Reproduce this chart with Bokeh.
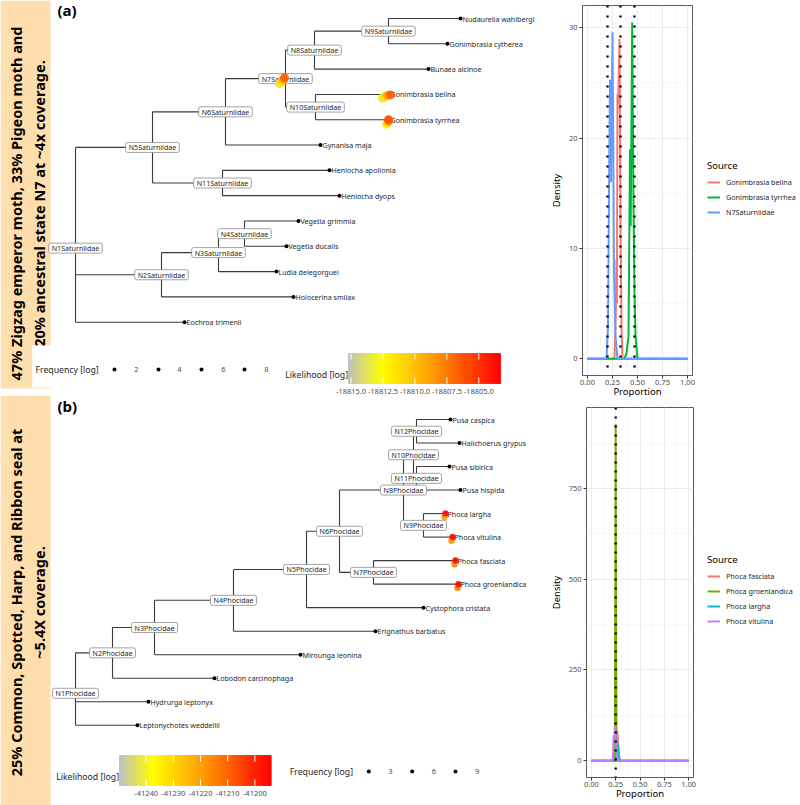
import numpy as np
from bokeh.plotting import figure
from bokeh.layouts import row, column
from bokeh.models import (Range1d, ColumnDataSource, LinearColorMapper, FixedTicker,
                          NumeralTickFormatter, Legend, LegendItem, Span)
from bokeh.transform import transform
from bokeh.core.properties import value
from bokeh.embed import file_html
from bokeh.resources import INLINE

FONT = "Noto Sans"

# ======================= DATA =======================
# ---- (a) Saturniidae tree: edges parent -> child with branch length
sat_parent = ["N1Saturniidae", "N1Saturniidae", "N1Saturniidae",
              "N5Saturniidae", "N5Saturniidae",
              "N6Saturniidae", "N6Saturniidae",
              "N7Saturniidae", "N7Saturniidae",
              "N8Saturniidae", "N8Saturniidae",
              "N9Saturniidae", "N9Saturniidae",
              "N10Saturniidae", "N10Saturniidae",
              "N11Saturniidae", "N11Saturniidae",
              "N2Saturniidae", "N2Saturniidae",
              "N3Saturniidae", "N3Saturniidae",
              "N4Saturniidae", "N4Saturniidae"]
sat_child = ["N5Saturniidae", "N2Saturniidae", "Eochroa trimenii",
             "N6Saturniidae", "N11Saturniidae",
             "N7Saturniidae", "Gynanisa maja",
             "N8Saturniidae", "N10Saturniidae",
             "N9Saturniidae", "Bunaea alcinoe",
             "Nudaurelia wahlbergi", "Gonimbrasia cytherea",
             "Gonimbrasia belina", "Gonimbrasia tyrrhea",
             "Heniocha apollonia", "Heniocha dyops",
             "N3Saturniidae", "Holocerina smilax",
             "N4Saturniidae", "Ludia delegorguei",
             "Vegetia grimmia", "Vegetia ducalis"]
sat_length = [0.077, 0.086, 0.109,
              0.073, 0.070,
              0.060, 0.095,
              0.029, 0.030,
              0.074, 0.114,
              0.072, 0.059,
              0.073, 0.073,
              0.107, 0.117,
              0.057, 0.132,
              0.026, 0.058,
              0.054, 0.042]

sat_anc_at = ["N7Saturniidae"] * 4 + ["Gonimbrasia belina"] * 4 + ["Gonimbrasia tyrrhea"] * 4
sat_anc_loglik = [-18813.5, -18811.5, -18809.0, -18806.5,
                  -18813.5, -18811.5, -18809.0, -18806.5,
                  -18813.0, -18811.0, -18808.5, -18806.0]
sat_anc_jitter_x = [-0.006, -0.004, -0.002, -0.001,
                    -0.006, -0.004, -0.001, 0.002,
                    -0.002, -0.001, 0.000, 0.000]
sat_anc_jitter_y = [0.20, 0.14, 0.05, -0.03,
                    0.14, 0.10, 0.04, 0.02,
                    0.18, 0.12, 0.05, 0.00]
sat_lik_range = [-18815.2, -18803.3]
sat_lik_ticks = [-18815.0, -18812.5, -18810.0, -18807.5, -18805.0]
sat_freq_breaks = [2, 4, 6, 8]
sat_title = ["47% Zigzag emperor moth, 33% Pigeon moth and",
             "20% ancestral state N7 at ~4x coverage."]

# ---- (b) Phocidae tree
pho_parent = ["N1Phocidae", "N1Phocidae", "N1Phocidae",
              "N2Phocidae", "N2Phocidae",
              "N3Phocidae", "N3Phocidae",
              "N4Phocidae", "N4Phocidae",
              "N5Phocidae", "N5Phocidae",
              "N6Phocidae", "N6Phocidae",
              "N8Phocidae", "N8Phocidae",
              "N10Phocidae", "N10Phocidae",
              "N12Phocidae", "N12Phocidae",
              "N11Phocidae", "N11Phocidae",
              "N9Phocidae", "N9Phocidae",
              "N7Phocidae", "N7Phocidae"]
pho_child = ["N2Phocidae", "Hydrurga leptonyx", "Leptonychotes weddellii",
             "N3Phocidae", "Lobodon carcinophaga",
             "N4Phocidae", "Mirounga leonina",
             "N5Phocidae", "Erignathus barbatus",
             "N6Phocidae", "Cystophora cristata",
             "N8Phocidae", "N7Phocidae",
             "N10Phocidae", "N9Phocidae",
             "N12Phocidae", "N11Phocidae",
             "Pusa caspica", "Halichoerus grypus",
             "Pusa sibirica", "Pusa hispida",
             "Phoca largha", "Phoca vitulina",
             "Phoca fasciata", "Phoca groenlandica"]
pho_length = [0.037, 0.073, 0.062,
              0.042, 0.102,
              0.079, 0.146,
              0.073, 0.142,
              0.033, 0.117,
              0.064, 0.034,
              0.010, 0.020,
              0.003, 0.003,
              0.034, 0.043,
              0.033, 0.044,
              0.022, 0.029,
              0.082, 0.085]

pho_anc_at = ["Phoca largha", "Phoca largha", "Phoca vitulina", "Phoca vitulina",
              "Phoca fasciata", "Phoca fasciata", "Phoca groenlandica", "Phoca groenlandica"]
pho_anc_loglik = [-41220.0, -41198.0, -41218.0, -41197.5,
                  -41216.0, -41197.5, -41215.0, -41197.0]
pho_anc_jitter_x = [-0.001, 0.0, -0.001, 0.0, -0.001, 0.0, -0.001, 0.0]
pho_anc_jitter_y = [0.15, 0.0, 0.15, 0.0, 0.15, 0.0, 0.15, 0.0]
pho_lik_range = [-41249.8, -41194.0]
pho_lik_ticks = [-41240, -41230, -41220, -41210, -41200]
pho_freq_breaks = [3, 6, 9]
pho_title = ["25% Common, Spotted, Harp, and Ribbon seal at",
             "~5.4X coverage."]

# ---- density (a)
dens_a_sources = ["Gonimbrasia belina", "Gonimbrasia tyrrhea", "N7Saturniidae"]
belina_x = [0.0, 0.27, 0.283, 0.29, 0.294, 0.30, 0.307, 0.32, 0.33, 0.34, 0.35, 1.0]
belina_y = [0, 0, 4.0, 9.0, 5.0, 24.0, 23.0, 29.0, 12.0, 3.0, 0, 0]
tyrrhea_x = [0.0, 0.37, 0.39, 0.41, 0.425, 0.432, 0.447, 0.46, 0.47, 0.48, 0.50, 1.0]
tyrrhea_y = [0, 0, 0.5, 2.0, 19.0, 12.0, 30.5, 14.0, 6.0, 2.0, 0, 0]
n7_x = [0.0, 0.19, 0.205, 0.215, 0.225, 0.235, 0.25, 0.258, 0.265, 0.28, 0.30, 1.0]
n7_y = [0, 0, 3.0, 15.0, 25.3, 16.0, 29.6, 19.5, 8.0, 2.0, 0, 0]
dens_a_vlines = [0.20, 0.33, 0.47]
dens_a_yticks = [0, 10, 20, 30]
dens_a_yminor = [5, 15, 25]

# ---- density (b)
dens_b_sources = ["Phoca fasciata", "Phoca groenlandica", "Phoca largha", "Phoca vitulina"]
fasciata_x = [0.0, 0.245, 0.255, 0.265, 0.275, 0.285, 0.30, 1.0]
fasciata_y = [0, 0, 40, 83, 50, 5, 0, 0]
groenlandica_x = [0.0, 0.24, 0.246, 0.25, 0.254, 0.26, 1.0]
groenlandica_y = [0, 0, 420, 927, 380, 0, 0]
largha_x = [0.0, 0.25, 0.262, 0.272, 0.28, 0.29, 0.30, 1.0]
largha_y = [0, 0, 30, 50, 25, 3, 0, 0]
vitulina_x = [0.0, 0.21, 0.222, 0.228, 0.238, 0.245, 0.252, 0.262, 0.275, 1.0]
vitulina_y = [0, 0, 8, 65, 70, 95, 60, 15, 0, 0]
dens_b_vlines = [0.25]
dens_b_yticks = [0, 250, 500, 750]
dens_b_yminor = [125, 375, 625, 875]

prop_ticks = [0.0, 0.25, 0.50, 0.75, 1.00]
prop_minor = [0.125, 0.375, 0.625, 0.875]

# ======================= STYLE / LAYOUT =======================
TREE_W, DENS_W, LEG_W = 545, 155, 100
TREE_A_H, TREE_B_H = 395, 410
DENS_A_H, DENS_B_H = 400, 405
BAND = "#FFDEAD"
BRANCH = "#3a3a3a"
TXT = "#262626"


def gradient(stops, n=256):
    pos = [s[0] for s in stops]
    rgb = np.array([[int(s[1][i:i + 2], 16) for i in (1, 3, 5)] for s in stops], float)
    t = np.linspace(0, 1, n)
    cols = np.stack([np.interp(t, pos, rgb[:, k]) for k in range(3)], 1)
    return ["#%02x%02x%02x" % tuple(int(round(v)) for v in c) for c in cols]


LIK_PAL = gradient([(0.0, "#bebebe"), (0.22, "#ffff00"), (0.52, "#ffa500"), (1.0, "#ff0000")])


def layout_tree(parents, children, lengths):
    kids, blen = {}, {}
    for pa, ch, ln in zip(parents, children, lengths):
        kids.setdefault(pa, []).append(ch)
        blen[ch] = ln
    root = [n for n in kids if n not in blen][0]
    depth, ypos, tips = {root: 0.0}, {}, []

    def visit(n):
        if n not in kids:
            ypos[n] = float(len(tips))
            tips.append(n)
            return
        for c in kids[n]:
            depth[c] = depth[n] + blen[c]
            visit(c)
        ypos[n] = float(np.mean([ypos[c] for c in kids[n]]))

    visit(root)
    return kids, depth, ypos, tips


def tree_panel(height, ref_top, tip0, step, parents, children, lengths,
               band, tag, tag_y):
    cx = lambda X: (X - 75.0) / 1000.0
    cy = lambda Y: (Y - tip0) / step
    p = figure(width=TREE_W, height=height,
               x_range=Range1d(cx(0), cx(TREE_W)),
               y_range=Range1d(cy(ref_top + height), cy(ref_top)),
               output_backend="svg", toolbar_location=None,
               x_axis_type=None, y_axis_type=None, min_border=0)
    p.outline_line_color = None
    p.background_fill_color = "white"
    p.border_fill_color = "white"

    y0, y1, mid, lines = band
    p.quad(left=cx(0), right=cx(50), top=cy(y0), bottom=cy(y1),
           fill_color=BAND, line_color=None)
    p.text(x=[cx(15), cx(38)], y=[cy(mid), cy(mid)], text=lines, angle=np.pi / 2,
           text_align="center", text_baseline="middle", text_font=value(FONT),
           text_font_style="bold", text_font_size="14.5px", text_color="black")

    kids, depth, ypos, tips = layout_tree(parents, children, lengths)
    hx0, hx1, hy, vx, vy0, vy1 = [], [], [], [], [], []
    for n, cs in kids.items():
        vx.append(depth[n])
        vy0.append(min(ypos[c] for c in cs))
        vy1.append(max(ypos[c] for c in cs))
        for c in cs:
            hx0.append(depth[n]); hx1.append(depth[c]); hy.append(ypos[c])
    p.segment(x0=hx0, y0=hy, x1=hx1, y1=hy, line_color=BRANCH, line_width=1.1)
    p.segment(x0=vx, y0=vy0, x1=vx, y1=vy1, line_color=BRANCH, line_width=1.1)

    p.scatter(x=[depth[t] for t in tips], y=[ypos[t] for t in tips], size=4,
              fill_color="black", line_color=None)
    p.text(x=[depth[t] for t in tips], y=[ypos[t] for t in tips], text=tips,
           x_offset=2, text_align="left", text_baseline="middle",
           text_font=value(FONT), text_font_size="7.1px", text_color=TXT)
    internal = list(kids.keys())
    p.text(x=[depth[n] for n in internal], y=[ypos[n] for n in internal], text=internal,
           text_align="center", text_baseline="middle", text_font=value(FONT),
           text_font_size="7.1px", text_color=TXT, background_fill_color="white",
           border_line_color="#8c8c8c", border_line_width=0.8, border_radius=2,
           padding=(3, 0))

    p.text(x=[cx(57)], y=[cy(tag_y)], text=[tag], text_align="left",
           text_baseline="middle", text_font=value(FONT), text_font_style="bold",
           text_font_size="15px", text_color="black")
    return p, cx, cy, depth, ypos


def draw_blobs(p, depth, ypos, at, ll, jx, jy, mapper, size):
    src = ColumnDataSource(dict(
        x=[depth[a] + dx for a, dx in zip(at, jx)],
        y=[ypos[a] + dy for a, dy in zip(at, jy)],
        ll=ll))
    p.scatter("x", "y", source=src, size=size, fill_color=transform("ll", mapper),
              line_color=None, fill_alpha=0.9)


def draw_colorbar(p, cx, cy, mapper, X0, X1, Y0, Y1, ticks, labels, label_Y, title_Y):
    lo, hi = mapper.low, mapper.high
    fx = lambda v: cx(X0 + (v - lo) / (hi - lo) * (X1 - X0))
    edges = np.linspace(lo, hi, 151)
    src = ColumnDataSource(dict(left=[fx(v) for v in edges[:-1]],
                                right=[fx(v) for v in edges[1:]],
                                v=list((edges[:-1] + edges[1:]) / 2)))
    p.quad(left="left", right="right", top=cy(Y0), bottom=cy(Y1), source=src,
           fill_color=transform("v", mapper), line_color=transform("v", mapper),
           line_width=0.8)
    k = len(ticks)
    tl = (Y1 - Y0) / 5.0
    tx = [fx(t) for t in ticks]
    p.segment(x0=tx * 2, x1=tx * 2,
              y0=[cy(Y0)] * k + [cy(Y1 - tl)] * k,
              y1=[cy(Y0 + tl)] * k + [cy(Y1)] * k,
              line_color="white", line_width=1)
    p.text(x=tx, y=[cy(label_Y)] * k, text=labels, text_align="center",
           text_baseline="middle", text_font=value(FONT), text_font_size="7.5px",
           text_color="#4d4d4d")
    p.text(x=[cx(X0 - 0.5)], y=[cy(title_Y)], text=["Likelihood [log]"],
           text_align="right", text_baseline="middle", text_font=value(FONT),
           text_font_size="8.7px", text_color=TXT)


def draw_freq(p, cx, cy, title_X, Y, dot_X, num_X, breaks):
    p.text(x=[cx(title_X)], y=[cy(Y)], text=["Frequency [log]"], text_align="left",
           text_baseline="middle", text_font=value(FONT), text_font_size="8.7px",
           text_color=TXT)
    p.scatter(x=[cx(X) for X in dot_X], y=[cy(Y)] * len(dot_X), size=4,
              fill_color="black", line_color=None)
    p.text(x=[cx(X) for X in num_X], y=[cy(Y)] * len(num_X),
           text=[str(b) for b in breaks], text_align="center", text_baseline="middle",
           text_font=value(FONT), text_font_size="7.5px", text_color="#4d4d4d")


def density_panel(height, xs, ys, names, colors, vlines, yticks, yminor,
                  borders, legend_xy, dash):
    ymax = max(max(y) for y in ys)
    pad = 0.05 * ymax
    p = figure(width=DENS_W, height=height, x_range=Range1d(-0.05, 1.05),
               y_range=Range1d(-pad, ymax + pad), output_backend="svg",
               toolbar_location=None, x_axis_label="Proportion", y_axis_label="Density",
               min_border_left=borders[0], min_border_right=borders[1],
               min_border_top=borders[2], min_border_bottom=borders[3])
    p.outline_line_color = "#5a5a5a"
    p.outline_line_width = 1
    p.background_fill_color = "white"
    p.border_fill_color = "white"
    p.xaxis.ticker = FixedTicker(ticks=prop_ticks, minor_ticks=prop_minor)
    p.xaxis.formatter = NumeralTickFormatter(format="0.00")
    p.yaxis.ticker = FixedTicker(ticks=yticks, minor_ticks=yminor)
    for ax in [p.xaxis[0], p.yaxis[0]]:
        ax.axis_line_color = None
        ax.major_tick_line_color = "#333333"
        ax.major_tick_out = 3
        ax.major_tick_in = 0
        ax.minor_tick_line_color = None
        ax.major_label_text_font = FONT
        ax.major_label_text_font_size = "7.5px"
        ax.major_label_text_color = "#4d4d4d"
        ax.axis_label_text_font = FONT
        ax.axis_label_text_font_size = "9.5px"
        ax.axis_label_text_font_style = "normal"
        ax.axis_label_text_color = "black"
    p.xaxis[0].major_label_standoff = 0
    p.xaxis[0].axis_label_standoff = -3
    p.yaxis[0].major_label_standoff = 1
    p.yaxis[0].axis_label_standoff = 3
    for g in [p.xgrid[0], p.ygrid[0]]:
        g.grid_line_color = "#ebebeb"
        g.grid_line_width = 1
        g.minor_grid_line_color = "#f3f3f3"
        g.minor_grid_line_width = 0.6
    for x, y, c in zip(xs, ys, colors):
        p.line(x, y, line_color=c, line_width=2)
    for v in vlines:
        p.add_layout(Span(location=v, dimension="height", line_color="black",
                          line_width=2.4, line_dash=dash))

    # legend in its own blank panel to the right of the plot (series kept out of view)
    lg = figure(width=LEG_W, height=height, x_range=Range1d(5, 6), y_range=Range1d(0, 1),
                output_backend="svg", toolbar_location=None, x_axis_type=None,
                y_axis_type=None, min_border=0)
    lg.outline_line_color = None
    lg.background_fill_color = "white"
    lg.border_fill_color = "white"
    items = []
    for x, y, n, c in zip(xs, ys, names, colors):
        r = lg.line(x, y, line_color=c, line_width=2)
        items.append(LegendItem(label=n, renderers=[r]))
    leg = Legend(items=items, location=legend_xy, title="Source",
                 border_line_color=None, background_fill_alpha=0, padding=0, margin=0,
                 spacing=3, glyph_height=12, glyph_width=13, label_height=12,
                 label_standoff=6, label_text_font=FONT, label_text_font_size="7.2px",
                 label_text_color=TXT, title_text_font=FONT, title_text_font_size="9.5px",
                 title_text_font_style="normal", title_text_color="black", title_standoff=4)
    lg.add_layout(leg)
    return row(p, lg)


# ======================= PANEL (a) =======================
mapper_a = LinearColorMapper(palette=LIK_PAL, low=sat_lik_range[0], high=sat_lik_range[1])
tA, cxA, cyA, dA, yA = tree_panel(TREE_A_H, 0.0, 18.0, 25.31, sat_parent, sat_child,
                                  sat_length, (0, 388, 203, sat_title), "(a)", 9)
draw_blobs(tA, dA, yA, sat_anc_at, sat_anc_loglik, sat_anc_jitter_x, sat_anc_jitter_y,
           mapper_a, 9)
tA.quad(left=cxA(31.7), right=cxA(62), top=cyA(345), bottom=cyA(387),
        fill_color="white", line_color=None)
draw_freq(tA, cxA, cyA, 35, 369, [114, 158, 201, 244], [136, 179, 223, 266], sat_freq_breaks)
draw_colorbar(tA, cxA, cyA, mapper_a, 348, 500, 353, 383, sat_lik_ticks,
              ["%.1f" % t for t in sat_lik_ticks], 391, 374)

dens_a = density_panel(DENS_A_H, [belina_x, tyrrhea_x, n7_x], [belina_y, tyrrhea_y, n7_y],
                       dens_a_sources, ["#F8766D", "#00BA38", "#619CFF"], dens_a_vlines,
                       dens_a_yticks, dens_a_yminor, (37, 8, 5, 25), (7, 157), "2 8")

# ======================= PANEL (b) =======================
mapper_b = LinearColorMapper(palette=LIK_PAL, low=pho_lik_range[0], high=pho_lik_range[1])
tB, cxB, cyB, dB, yB = tree_panel(TREE_B_H, 395.0, 419.0, 23.52, pho_parent, pho_child,
                                  pho_length, (395, 806, 602, pho_title), "(b)", 405)
draw_blobs(tB, dB, yB, pho_anc_at, pho_anc_loglik, pho_anc_jitter_x, pho_anc_jitter_y,
           mapper_b, 6.5)
draw_colorbar(tB, cxB, cyB, mapper_b, 119, 270.7, 755, 785, pho_lik_ticks,
              [str(t) for t in pho_lik_ticks], 792.7, 776.7)
draw_freq(tB, cxB, cyB, 289.3, 771, [368.3, 411.7, 455], [390, 433.3, 476.7], pho_freq_breaks)

dens_b = density_panel(DENS_B_H, [fasciata_x, groenlandica_x, largha_x, vitulina_x],
                       [fasciata_y, groenlandica_y, largha_y, vitulina_y],
                       dens_b_sources, ["#F8766D", "#7CAE00", "#00BFC4", "#C77CFF"],
                       dens_b_vlines, dens_b_yticks, dens_b_yminor, (41, 7, 7, 28),
                       (7, 150), "2 7")

layout = row(column(tA, tB), column(dens_a, dens_b))
open("out.html", "w").write(file_html(layout, INLINE))
